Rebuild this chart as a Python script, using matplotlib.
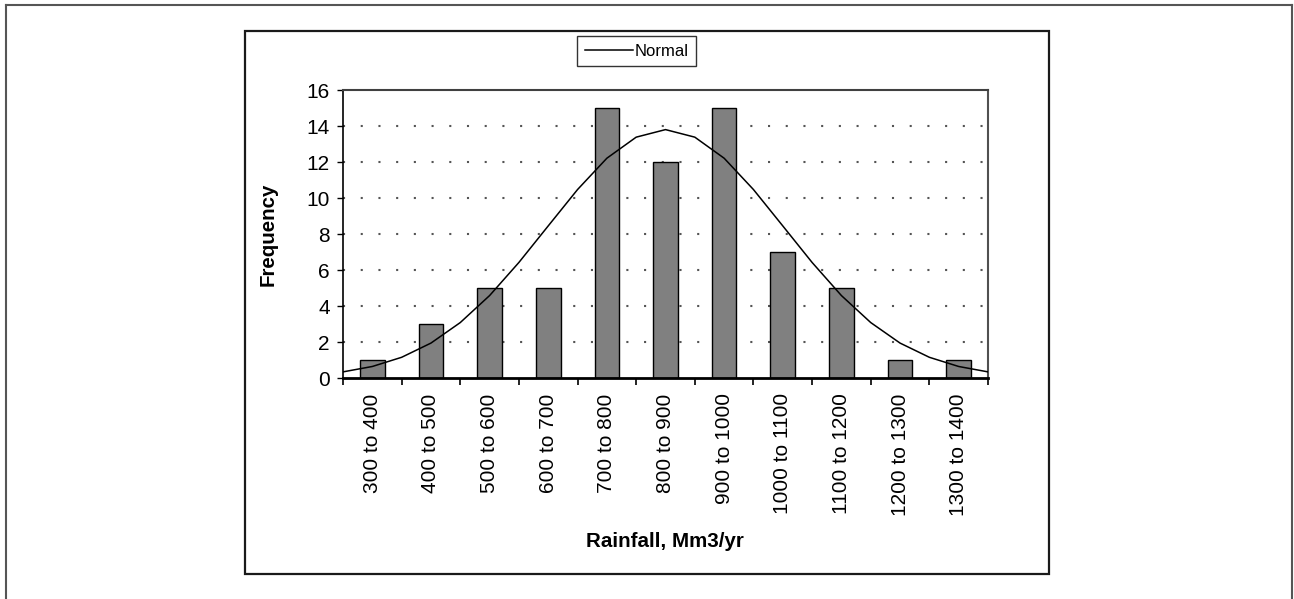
import numpy as np
import matplotlib
matplotlib.use("Agg")
import matplotlib.pyplot as plt
from matplotlib.lines import Line2D
from matplotlib.patches import Rectangle

plt.rcParams['font.family'] = ['Liberation Sans', 'DejaVu Sans']

# rainfall classes and observed counts
bin_edges = [300, 400, 500, 600, 700, 800, 900, 1000, 1100, 1200, 1300, 1400]
frequency = [1, 3, 5, 5, 15, 12, 15, 7, 5, 1, 1]
class_labels = ['300 to 400', '400 to 500', '500 to 600', '600 to 700', '700 to 800',
                '800 to 900', '900 to 1000', '1000 to 1100', '1100 to 1200',
                '1200 to 1300', '1300 to 1400']

# fitted normal curve, sampled every 50 Mm3/yr
normal_x = [300, 350, 400, 450, 500, 550, 600, 650, 700, 750, 800, 850,
            900, 950, 1000, 1050, 1100, 1150, 1200, 1250, 1300, 1350, 1400]
normal_y = [0.34, 0.64, 1.15, 1.94, 3.08, 4.58, 6.42, 8.45, 10.47, 12.21, 13.38, 13.80,
            13.38, 12.21, 10.47, 8.45, 6.42, 4.58, 3.08, 1.94, 1.15, 0.64, 0.34]

W, H = 1294, 599
fig = plt.figure(figsize=(W / 100, H / 100), dpi=100)

# outer page frame (open at the bottom)
fig.add_artist(Line2D([6 / W, 6 / W], [0, 1 - 5 / H], transform=fig.transFigure,
                      color='#555555', lw=1.5))
fig.add_artist(Line2D([6 / W, 1292 / W], [1 - 5 / H, 1 - 5 / H], transform=fig.transFigure,
                      color='#555555', lw=1.5))
fig.add_artist(Line2D([1292 / W, 1292 / W], [0, 1 - 5 / H], transform=fig.transFigure,
                      color='#555555', lw=1.5))

# chart area box
fig.add_artist(Rectangle((245 / W, 1 - 574 / H), (1049 - 245) / W, (574 - 31) / H,
                         transform=fig.transFigure, fill=False, ec='#1a1a1a', lw=1.6))

ax = fig.add_axes([343 / W, 1 - 378 / H, (988 - 343) / W, (378 - 90) / H])

centers = [(a + b) / 2 for a, b in zip(bin_edges[:-1], bin_edges[1:])]
ax.bar(centers, frequency, width=42, color='#808080', edgecolor='black', lw=1, zorder=2)
line, = ax.plot(normal_x, normal_y, color='black', lw=1.1, zorder=3, label='Normal')

ax.set_xlim(bin_edges[0], bin_edges[-1])
ax.set_ylim(0, 16)
ax.set_yticks(np.arange(0, 17, 2))
for y in range(2, 16, 2):
    ax.axhline(y, color='#555555', lw=1.5, linestyle=(0, (1, 7.5)), zorder=1)

ax.set_xticks(bin_edges)
ax.set_xticklabels([])
ax.set_xticks(centers, minor=True)
ax.set_xticklabels(class_labels, minor=True, rotation=90, fontsize=15, va='top')
ax.tick_params(axis='x', which='major', direction='out', length=5, width=1.2)
ax.tick_params(axis='x', which='minor', length=0, pad=11)
ax.tick_params(axis='y', direction='out', length=4.5, width=1, labelsize=15, pad=5)

ax.spines['bottom'].set_linewidth(2)
ax.spines['left'].set_linewidth(1.2)
ax.spines['top'].set_color('#404040')
ax.spines['right'].set_color('#505050')
ax.spines['top'].set_linewidth(1.5)
ax.spines['right'].set_linewidth(1.5)

ax.set_ylabel('Frequency', fontsize=14.8, fontweight='bold')
ax.yaxis.set_label_coords(-0.101, 0.5)
ax.set_xlabel('Rainfall, Mm3/yr', fontsize=14.8, fontweight='bold', va='center')
ax.xaxis.set_label_coords(0.499, -0.566)

leg = fig.legend(handles=[line], loc='center', bbox_to_anchor=(636.5 / W, 1 - 51 / H),
                 fontsize=12, frameon=True, fancybox=False, handlelength=2.9,
                 handletextpad=0.1, borderpad=0.45, borderaxespad=0)
leg.get_frame().set_edgecolor('black')
leg.get_frame().set_linewidth(1.0)

fig.savefig('out.png', dpi=100)
